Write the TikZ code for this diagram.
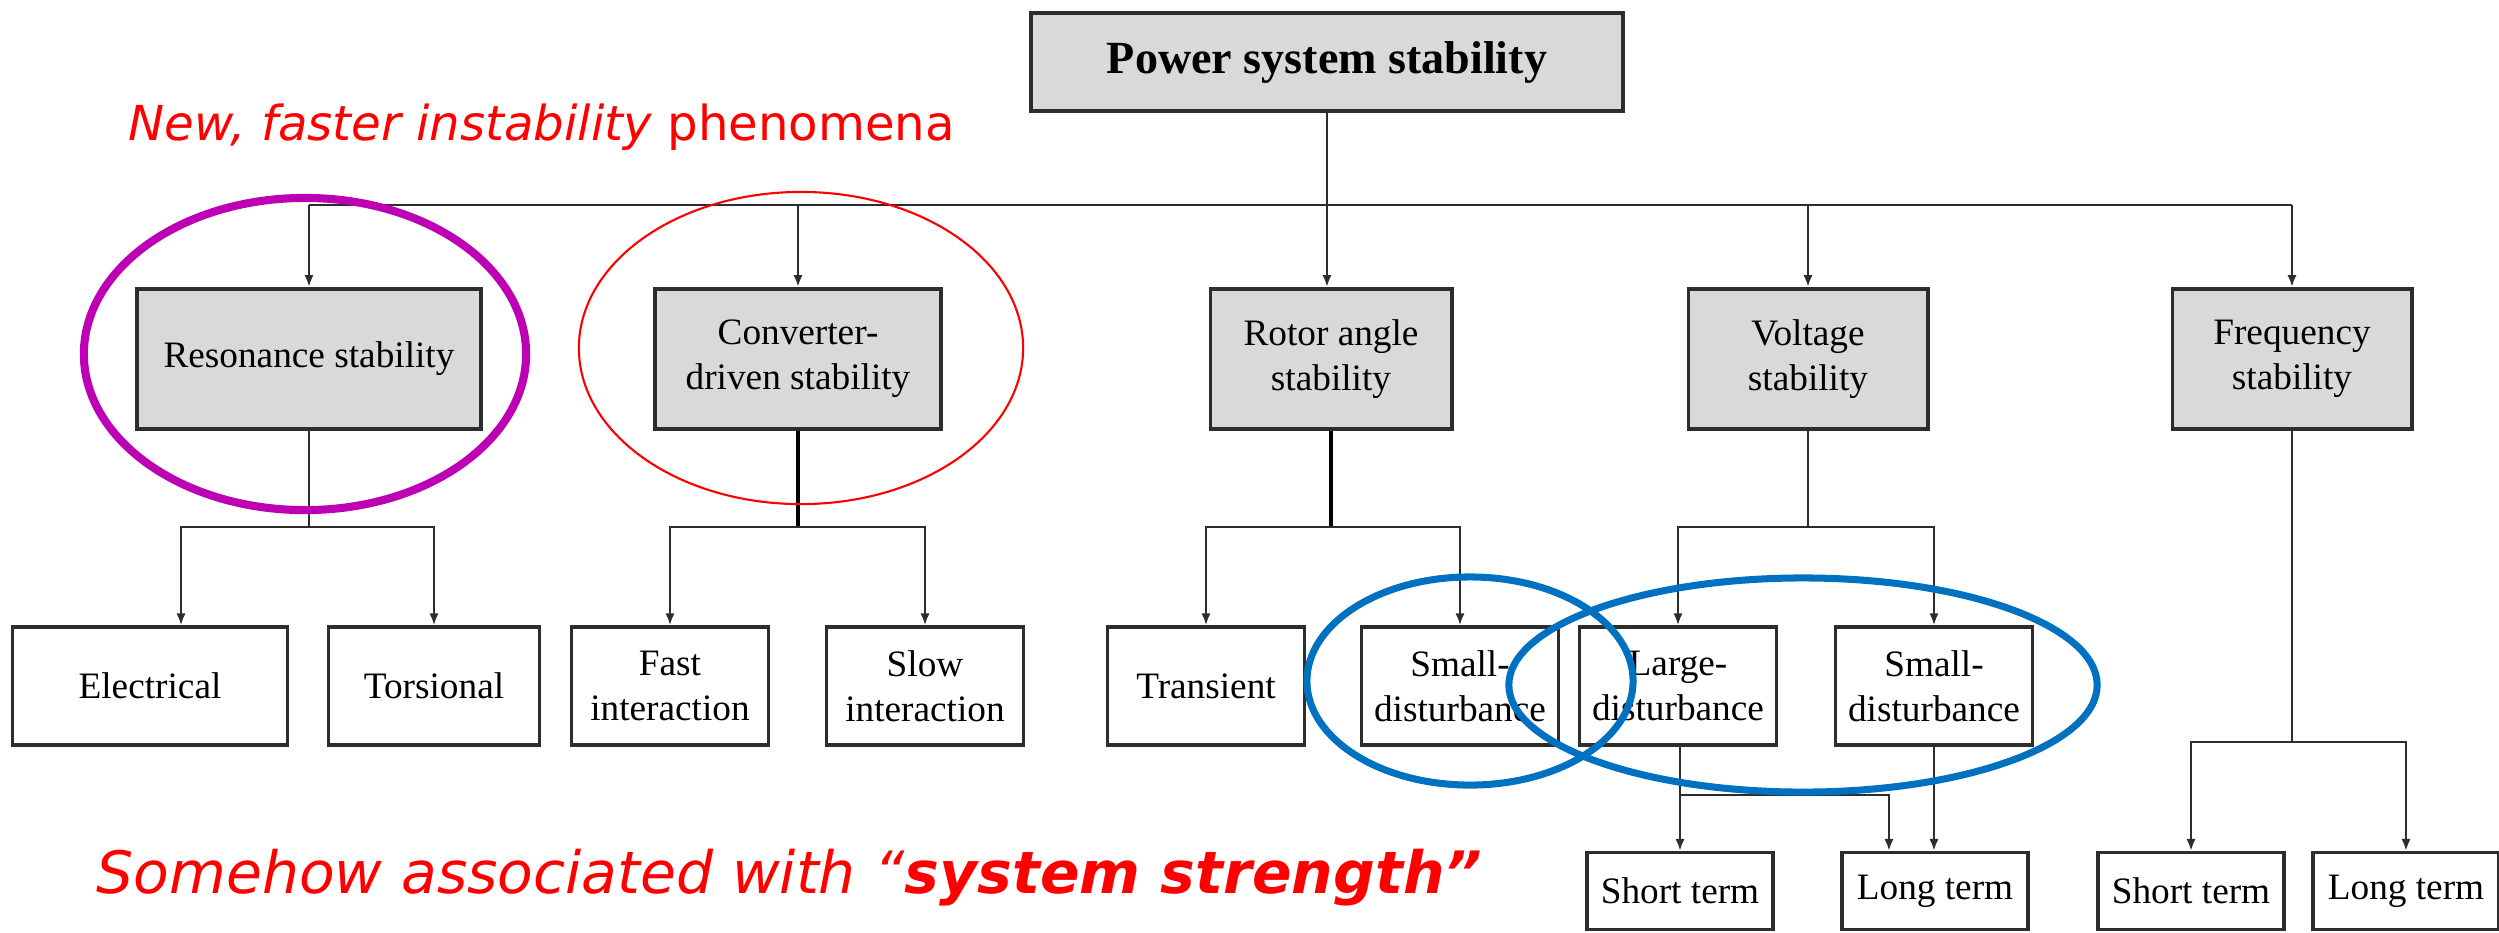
\documentclass[tikz,border=0pt]{standalone}
\usepackage{fontspec}
\setmainfont{Liberation Serif}
\newfontfamily\notefont{DejaVu Sans}
\usetikzlibrary{arrows.meta, positioning, calc}
\definecolor{boxgray}{RGB}{217,217,217}
\definecolor{linegray}{RGB}{45,45,45}
\definecolor{ringmag}{RGB}{190,0,180}
\definecolor{ringblue}{RGB}{0,112,192}

\begin{document}
\begin{tikzpicture}[
  x=0.01cm, y=-0.01cm,
  >={Latex[length=3.4pt,width=2.6pt]},
  mainbox/.style={draw=linegray, line width=1.1pt, fill=boxgray, minimum width=5.91cm, minimum height=0.98cm, font=\fontsize{13.1}{15}\selectfont\bfseries},
  catbox/.style={draw=linegray, line width=1.1pt, fill=boxgray, minimum height=1.4cm, align=center, font=\fontsize{10.6}{12.8}\selectfont},
  subbox/.style={draw=linegray, line width=0.9pt, fill=white, minimum height=1.18cm, minimum width=1.97cm, align=center, font=\fontsize{10.6}{12.8}\selectfont},
  leafbox/.style={subbox, minimum height=0.77cm, minimum width=1.86cm},
  wire/.style={draw=linegray, line width=0.65pt},
  trunkwire/.style={draw=black, line width=1.1pt},
  redtext/.style={text=red, inner sep=0pt, anchor=base west}]
  \useasboundingbox (0,0) rectangle (2499,932);

  % top and first level
  \node[mainbox] (pss) at (1327,62) {Power system stability};
  \node[catbox, minimum width=3.44cm] (res)  at (309,359)  {Resonance stability};
  \node[catbox, minimum width=2.85cm] (conv) at (798,359)  {Converter-\\driven stability};
  \node[catbox, minimum width=2.41cm] (rot)  at (1331,359) {Rotor angle\\stability};
  \node[catbox, minimum width=2.39cm] (volt) at (1808,359) {Voltage\\stability};
  \node[catbox, minimum width=2.39cm] (freq) at (2292,359) {Frequency\\stability};

  % second level
  \node[subbox, minimum width=2.75cm] (elec) at (150,686) {Electrical};
  \node[subbox, minimum width=2.11cm] (tors) at (434,686) {Torsional};
  \node[subbox] (fast)  at (670,686)  {Fast\\interaction};
  \node[subbox] (slow)  at (925,686)  {Slow\\interaction};
  \node[subbox] (trans) at (1206,686) {Transient};
  \node[subbox] (sdra)  at (1460,686) {Small-\\disturbance};
  \node[subbox] (ldv)   at (1678,686) {Large-\\disturbance};
  \node[subbox] (sdv)   at (1934,686) {Small-\\disturbance};

  % third level
  \node[leafbox] (stv) at (1680,891) {Short term};
  \node[leafbox] (ltv) at (1935,891) {Long term};
  \node[leafbox] (stf) at (2191,891) {Short term};
  \node[leafbox] (ltf) at (2406,891) {Long term};

  \coordinate (bus)  at (0,205);
  \coordinate (bar)  at (0,527);
  \coordinate (lbar) at (0,795);
  \coordinate (fbar) at (0,742);

  \draw[wire,->] (pss.south) -- (pss.south |- rot.north);
  \draw[wire] (res.north |- bus) -- (freq.north |- bus);
  \foreach \n in {res,conv,volt,freq}
    \draw[wire,->] (\n.north |- bus) -- (\n.north);

  \draw[wire] (res.south) -- (res.south |- bar);
  \draw[wire,->] (res.south |- bar) -| ([xshift=3.1mm]elec.north);
  \draw[wire,->] (res.south |- bar) -| (tors.north);
  \draw[trunkwire] (conv.south) -- (conv.south |- bar);
  \draw[wire,->] (conv.south |- bar) -| (fast.north);
  \draw[wire,->] (conv.south |- bar) -| (slow.north);
  \draw[trunkwire] (rot.south) -- (rot.south |- bar);
  \draw[wire,->] (rot.south |- bar) -| (trans.north);
  \draw[wire,->] (rot.south |- bar) -| (sdra.north);
  \draw[wire] (volt.south) -- (volt.south |- bar);
  \draw[wire,->] (volt.south |- bar) -| (ldv.north);
  \draw[wire,->] (volt.south |- bar) -| (sdv.north);

  \draw[wire,->] (stv.north |- ldv.south) -- (stv.north);
  \draw[wire,->] (stv.north |- lbar) -| ([xshift=-4.6mm]ltv.north);
  \draw[wire,->] (sdv.south) -- (sdv.south |- ltv.north);
  \draw[wire] (freq.south) -- (freq.south |- fbar);
  \draw[wire,->] (freq.south |- fbar) -| (stf.north);
  \draw[wire,->] (freq.south |- fbar) -| (ltf.north);

  % highlights
  \draw[ringmag, line width=2.3pt] (305,354) ellipse [x radius=2.21cm, y radius=1.56cm];
  \draw[red, line width=0.6pt] (801,348) ellipse [x radius=2.22cm, y radius=1.56cm];
  \draw[ringblue, line width=2pt] (1470,681) ellipse [x radius=1.63cm, y radius=1.04cm];
  \draw[ringblue, line width=2pt] (1803,685) ellipse [x radius=2.94cm, y radius=1.07cm];

  \node[redtext, font=\notefont\fontsize{13.7}{16}\selectfont] (newtxt) at (128,140)
    {\itshape New, faster instability\upshape{} phenomena};
  \node[redtext, font=\notefont\fontsize{16.6}{19}\selectfont] (strtxt) at (96,893)
    {\itshape Somehow associated with “\textbf{system strength”}};
\end{tikzpicture}
\end{document}
